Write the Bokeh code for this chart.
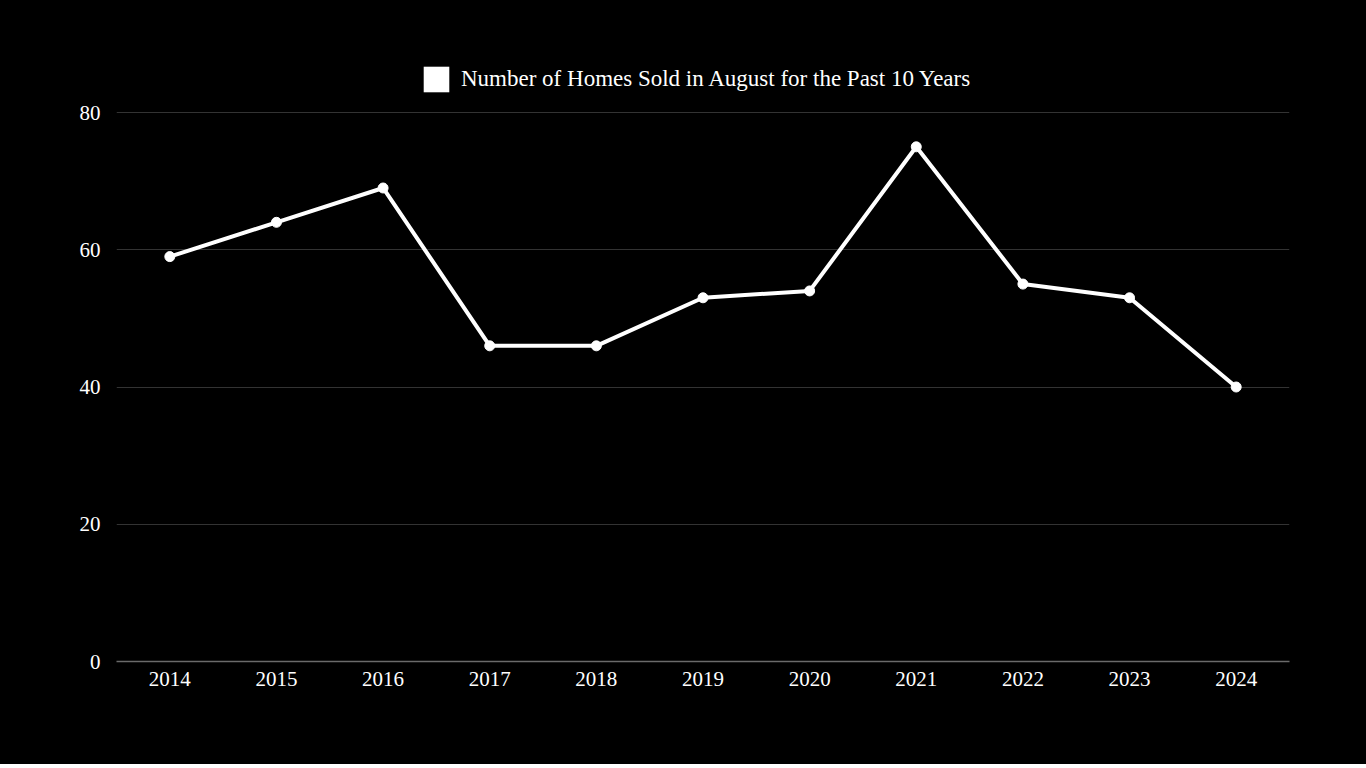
from bokeh.plotting import figure
from bokeh.models import Range1d, FixedTicker, Legend, LegendItem, ColumnDataSource
from bokeh.embed import file_html
from bokeh.resources import INLINE

years = [2014, 2015, 2016, 2017, 2018, 2019, 2020, 2021, 2022, 2023, 2024]
homes_sold = [59, 64, 69, 46, 46, 53, 54, 75, 55, 53, 40]
year_labels = [str(y) for y in years]
y_ticks = [0, 20, 40, 60, 80]
series_name = "Number of Homes Sold in August for the Past 10 Years"

FONT = "Liberation Serif"

# layout (pixels): frame spans y=40..661, value 80 sits at y=112
FRAME_TOP, Y80_PX, ZERO_PX = 40, 112, 661
y_end = y_ticks[-1] * (ZERO_PX - FRAME_TOP) / (ZERO_PX - Y80_PX)

src = ColumnDataSource(dict(x=years, y=homes_sold))

p = figure(width=1366, height=764, output_backend="svg", toolbar_location=None,
           x_range=Range1d(years[0] - 0.5, years[-1] + 0.5), y_range=Range1d(0, y_end),
           background_fill_color="black", border_fill_color="black",
           min_border_left=116, min_border_right=77, min_border_top=FRAME_TOP, min_border_bottom=103,
           outline_line_color=None, styles={"background-color": "black"})

line_r = p.line("x", "y", source=src, line_color="white", line_width=4)
dot_r = p.scatter("x", "y", source=src, size=10, fill_color="white", line_color="white")
# zero-size rects: invisible on the plot, give a filled square swatch in the legend
swatch = p.rect("x", "y", width=0, height=0, source=src, fill_color="white", line_color=None)

legend = Legend(items=[LegendItem(label=series_name, renderers=[swatch])],
                orientation="horizontal", location=(304, 566),
                background_fill_alpha=0, border_line_color=None,
                glyph_width=32, glyph_height=32, label_standoff=9,
                label_text_font=FONT, label_text_font_size="23px", label_text_color="white",
                label_height=32,
                padding=10, margin=0)
p.add_layout(legend, "center")

p.xaxis.ticker = FixedTicker(ticks=years)
p.xaxis.major_label_overrides = {y: l for y, l in zip(years, year_labels)}
p.yaxis.ticker = FixedTicker(ticks=y_ticks)

for ax in (p.xaxis, p.yaxis):
    ax.major_tick_line_color = None
    ax.minor_tick_line_color = None
    ax.major_tick_out = 0
    ax.major_tick_in = 0
    ax.major_label_text_font = FONT
    ax.major_label_text_font_size = "21px"
    ax.major_label_text_color = "white"

p.xaxis.axis_line_color = "#6a6a6a"
p.xaxis.axis_line_width = 1.5
p.xaxis.major_label_standoff = 10
p.yaxis.axis_line_color = None
p.yaxis.major_label_standoff = 16

p.xgrid.grid_line_color = None
p.ygrid.grid_line_color = "#333333"
p.ygrid.grid_line_width = 1

html = file_html(p, INLINE)
html = html.replace("<body>", '<body style="background-color: black; margin: 0;">', 1)
html = html.replace("</body>",
                    '<div style="position:absolute; left:77px; top:764px; width:1212px; '
                    'height:4px; background-color:white;"></div>\n</body>', 1)
open("out.html", "w").write(html)
